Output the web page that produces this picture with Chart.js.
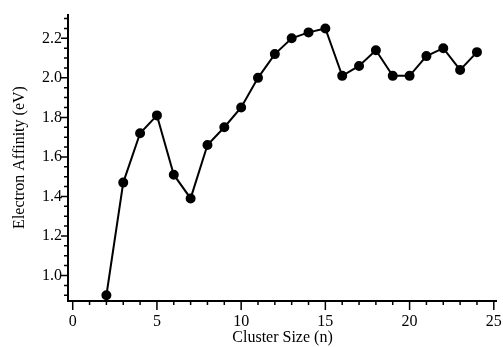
<!DOCTYPE html>
<html>
<head>
<meta charset="utf-8">
<script src="https://cdn.jsdelivr.net/npm/chart.js@4"></script>
<style>
  html, body { margin: 0; padding: 0; background: #fff; }
  #wrap { width: 503px; height: 347px; }
</style>
</head>
<body>
<div id="wrap"><canvas id="myChart" width="503" height="347"></canvas></div>
<script>
// cluster size n and electron affinity in eV
const clusterSize = [2, 3, 4, 5, 6, 7, 8, 9, 10, 11, 12, 13, 14, 15, 16, 17, 18, 19, 20, 21, 22, 23, 24];
const affinity = [0.90, 1.47, 1.72, 1.81, 1.51, 1.39, 1.66, 1.75, 1.85, 2.00, 2.12, 2.20, 2.23, 2.25,
                  2.01, 2.06, 2.14, 2.01, 2.01, 2.11, 2.15, 2.04, 2.13];
const xMajorTicks = [0, 5, 10, 15, 20, 25];
const yMajorTicks = [1.0, 1.2, 1.4, 1.6, 1.8, 2.0, 2.2];

const points = clusterSize.map((n, i) => ({ x: n, y: affinity[i] }));

function isMajor(list, v) {
  return list.some(m => Math.abs(m - v) < 1e-6);
}

// axis lines plus long/short tick marks, drawn from the scales
const axisPlugin = {
  id: 'axisTicks',
  afterDraw(chart) {
    const ctx = chart.ctx;
    const area = chart.chartArea;
    const xs = chart.scales.x, ys = chart.scales.y;
    ctx.save();
    ctx.strokeStyle = '#000';
    ctx.lineWidth = 2;
    ctx.beginPath();
    ctx.moveTo(area.left, area.top);
    ctx.lineTo(area.left, area.bottom);
    ctx.lineTo(area.right, area.bottom);
    ctx.stroke();
    ctx.lineWidth = 1.5;
    ctx.beginPath();
    xs.ticks.forEach(t => {
      const px = xs.getPixelForValue(t.value);
      const len = isMajor(xMajorTicks, t.value) ? 9 : 4;
      ctx.moveTo(px, area.bottom);
      ctx.lineTo(px, area.bottom + len);
    });
    ys.ticks.forEach(t => {
      const py = ys.getPixelForValue(t.value);
      const len = isMajor(yMajorTicks, t.value) ? 7 : 4;
      ctx.moveTo(area.left, py);
      ctx.lineTo(area.left - len, py);
    });
    ctx.stroke();
    ctx.restore();
  }
};

const serif = { family: '"Liberation Serif", "DejaVu Serif", serif', size: 16 };

var ctx = document.getElementById('myChart').getContext('2d');
var chart = new Chart(ctx, {
  type: 'scatter',
  data: {
    datasets: [{
      data: points,
      showLine: true,
      borderColor: '#000',
      backgroundColor: '#000',
      borderWidth: 2,
      pointRadius: 4,
      pointHoverRadius: 4,
      tension: 0
    }]
  },
  options: {
    responsive: false,
    animation: false,
    layout: { padding: { top: 14, right: 5, left: 0, bottom: 0 } },
    plugins: { legend: { display: false }, tooltip: { enabled: false } },
    scales: {
      x: {
        type: 'linear',
        min: -0.28,
        max: 25.19,
        grid: { display: false, drawTicks: false },
        border: { display: false },
        ticks: {
          stepSize: 1,
          includeBounds: false,
          autoSkip: false,
          maxRotation: 0,
          padding: 11,
          color: '#000',
          font: serif,
          callback: v => isMajor(xMajorTicks, v) ? String(v) : ''
        },
        title: {
          display: true,
          text: 'Cluster Size (n)',
          color: '#000',
          font: serif,
          padding: { top: 0, bottom: 0 }
        },
        afterFit: s => { s.height = 46; s.paddingLeft = 0; s.paddingRight = 0; }
      },
      y: {
        type: 'linear',
        min: 0.871,
        max: 2.323,
        grid: { display: false, drawTicks: false },
        border: { display: false },
        ticks: {
          stepSize: 0.05,
          includeBounds: false,
          autoSkip: false,
          padding: 6,
          color: '#000',
          font: serif,
          callback: v => isMajor(yMajorTicks, v) ? v.toFixed(1) : ''
        },
        title: {
          display: true,
          text: 'Electron Affinity (eV)',
          color: '#000',
          font: serif,
          padding: { top: 10, bottom: 0 }
        },
        afterFit: s => { s.width = 68; s.paddingTop = 0; s.paddingBottom = 0; }
      }
    }
  },
  plugins: [axisPlugin]
});
</script>
</body>
</html>
